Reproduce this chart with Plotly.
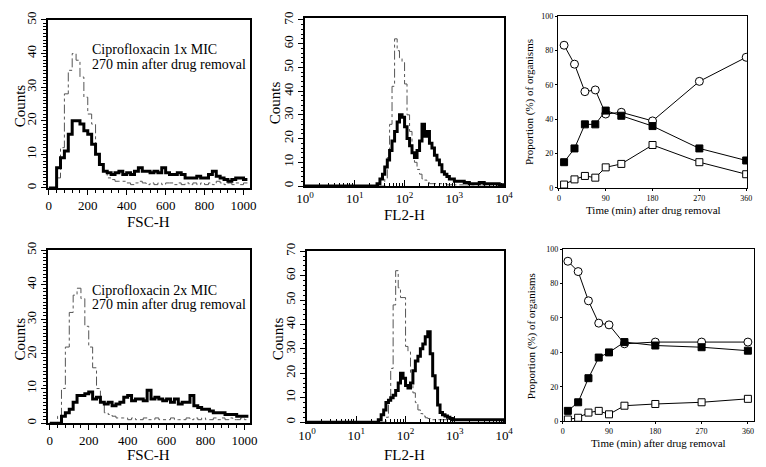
import plotly.graph_objects as go

W, H = 766, 467
OFF = 8  # page body margin in the browser
FW, FH = W - OFF, H - OFF
FONT = "Liberation Serif"

# ---------------- data ----------------
fsc_x = [0, 20, 40, 60, 80, 100, 120, 140, 160, 180, 200, 220, 240, 260, 280, 300, 320, 340, 360, 380,
         400, 420, 440, 460, 480, 500, 520, 540, 560, 580, 600, 620, 640, 660, 680, 700, 720, 740, 760, 780,
         800, 820, 840, 860, 880, 900, 920, 940, 960, 980, 1000, 1020]

fsc1_treated = [0, 0, 6, 9, 11, 16, 20, 20, 19, 17, 16, 13, 10, 7, 5, 4.5, 4, 4.5, 5, 4,
                4.5, 4, 5, 6, 5, 5, 4.5, 5, 4.5, 6, 4.5, 4, 4, 4.5, 4, 3, 3, 3, 3.5, 3,
                3, 4, 5, 3.5, 3, 2.5, 2, 2.5, 3, 3, 2.5, 2.5]
fsc1_control = [0, 0, 3, 12, 28, 35, 40, 38, 33, 27, 22, 19, 10, 7, 5, 3, 2.5, 2, 2, 2,
                1.5, 1, 1.5, 2, 1.5, 1, 1.5, 1, 1.5, 1, 1.5, 1.5, 1, 1.5, 1, 1.5, 1, 1.5, 1, 1.5,
                1, 1.5, 1, 2, 1.5, 1, 1.5, 1, 1.5, 1, 1.5, 1]

fsc2_treated = [0, 0, 0, 2, 3, 4, 6, 8, 8, 8.5, 9, 7, 7.5, 6, 5.5, 6, 5, 5.5, 6, 7.5,
                8, 6.5, 7, 7, 6.5, 9.5, 7, 7.5, 7, 6.5, 7, 6, 7, 5.5, 6, 6, 8, 5, 4.5, 4,
                4, 3.5, 3, 3, 3, 2.5, 2.5, 2.5, 2, 2, 2, 2]
fsc2_control = [0, 0, 2, 10, 22, 32, 37, 39, 36, 28, 22, 16, 10, 6, 3, 2.5, 2, 1.5, 1.5, 1.5,
                1, 1.5, 1, 1, 1.5, 1, 1, 1.5, 1, 1, 1, 1.5, 1, 1, 1, 1.5, 1, 1.5, 1, 1.5,
                1, 1, 1.5, 1, 1.5, 1, 1.5, 1, 1, 1.5, 1, 1]

fl2_x = [1, 20, 25, 28, 32, 36, 40, 45, 50, 56, 63, 71, 79, 89, 100, 112, 126, 141, 158, 178,
         200, 224, 251, 282, 316, 355, 398, 447, 501, 562, 631, 708, 794, 891, 1000, 1260, 1580, 2000,
         2510, 3160, 3980, 5010, 6310, 7940, 10000]

fl2_1_treated = [0, 0, 0, 1, 3, 5, 8, 11, 15, 19, 23, 27, 30, 29, 25, 20, 17, 14, 12, 15,
                 19, 26, 21, 23, 18, 16, 13, 11, 9, 6, 5, 4, 3, 3, 2, 2, 1.5, 1,
                 1, 1.5, 1, 1, 1, 0.5, 0]
fl2_1_control = [0, 0, 0, 0, 0, 0, 3, 12, 26, 42, 62, 57, 54, 52, 43, 30, 23, 14, 10, 7,
                 5, 3, 2.5, 1.5, 1, 1, 1, 1, 1, 1, 1, 0.5, 0.5, 1, 0.5, 0.5, 0.5, 0.5,
                 0.5, 0.5, 0.5, 0.5, 0.5, 0.5, 0]

fl2_2_treated = [0, 0, 0, 1, 3, 5, 8, 9, 10, 11, 13, 16, 20, 18, 15, 14, 16, 21, 25, 27,
                 30, 32, 35, 37, 28, 19, 14, 7, 4, 3, 2.5, 2, 1.5, 1, 1, 1, 1, 1,
                 1, 1, 1, 1, 1, 1, 0]
fl2_2_control = [0, 0, 0, 0, 0, 0, 2, 9, 22, 48, 62, 55, 51, 51, 31, 29, 20, 12, 8, 5,
                 3.5, 2.5, 1.8, 1.5, 1, 1, 1, 1, 1, 1, 1, 1, 1, 1, 1, 1, 1, 1,
                 1, 1, 1, 1, 1, 1, 0]

time_min = [10, 30, 50, 70, 90, 120, 180, 270, 360]
top_open_circle = [83, 72, 56, 57, 43, 44, 39, 62, 76]
top_filled_square = [15, 23, 37, 37, 45, 42, 36, 23, 16]
top_open_square = [2, 5, 7, 6, 12, 14, 25, 15, 8]

bot_open_circle = [93, 87, 70, 57, 56, 45, 46, 46, 46]
bot_filled_square = [6, 11, 25, 37, 40, 46, 44, 43, 41]
bot_open_square = [1, 2, 5, 6, 4, 9, 10, 11, 13]

fsc_ticks = [0, 200, 400, 600, 800, 1000]
fl2_ticks = [1, 10, 100, 1000, 10000]
fl2_ticktext = ["10<sup>0</sup>", "10<sup>1</sup>", "10<sup>2</sup>", "10<sup>3</sup>", "10<sup>4</sup>"]
time_ticks = [0, 90, 180, 270, 360]

# ---------------- layout helpers (page pixel -> paper fraction) ----------------
def fx(px):
    return (px - OFF) / FW

def fy(py):
    return 1 - (py - OFF) / FH

fig = go.Figure()

def hist_pair(xa, ya, x, treated, control):
    fig.add_trace(go.Scatter(x=x, y=control, mode="lines", line=dict(color="#555", width=1, dash="dashdot", shape="hv"),
                             xaxis=xa, yaxis=ya, showlegend=False, hoverinfo="skip"))
    fig.add_trace(go.Scatter(x=x, y=treated, mode="lines", line=dict(color="black", width=3, shape="hv"),
                             xaxis=xa, yaxis=ya, showlegend=False, hoverinfo="skip"))

def time_series(xa, ya, circ, fsq, osq):
    fig.add_trace(go.Scatter(x=time_min, y=circ, mode="lines+markers", line=dict(color="black", width=1),
                             marker=dict(symbol="circle", size=8, color="white", line=dict(color="black", width=1)),
                             xaxis=xa, yaxis=ya, showlegend=False))
    fig.add_trace(go.Scatter(x=time_min, y=fsq, mode="lines+markers", line=dict(color="black", width=1),
                             marker=dict(symbol="square", size=7, color="black", line=dict(color="black", width=1)),
                             xaxis=xa, yaxis=ya, showlegend=False))
    fig.add_trace(go.Scatter(x=time_min, y=osq, mode="lines+markers", line=dict(color="black", width=1),
                             marker=dict(symbol="square", size=7, color="white", line=dict(color="black", width=1)),
                             xaxis=xa, yaxis=ya, showlegend=False))

hist_pair("x", "y", fsc_x, fsc1_treated, fsc1_control)
hist_pair("x2", "y2", fl2_x, fl2_1_treated, fl2_1_control)
time_series("x3", "y3", top_open_circle, top_filled_square, top_open_square)
hist_pair("x4", "y4", fsc_x, fsc2_treated, fsc2_control)
hist_pair("x5", "y5", fl2_x, fl2_2_treated, fl2_2_control)
time_series("x6", "y6", bot_open_circle, bot_filled_square, bot_open_square)

tickfont_h = dict(family=FONT, size=13, color="black")
tickfont_s = dict(family=FONT, size=8, color="black")

def fsc_xaxis(dom, rng, anchor):
    return dict(domain=dom, range=rng, anchor=anchor, showgrid=False, zeroline=False,
                showline=True, linecolor="black", linewidth=1.5, mirror=True,
                tickvals=fsc_ticks, ticks="outside", ticklen=5, tickcolor="black", tickfont=tickfont_h,
                minor=dict(dtick=40, ticks="outside", ticklen=3, tickcolor="black", showgrid=False))

def cnt_yaxis(dom, rng, anchor, dtick, minor):
    return dict(domain=dom, range=rng, anchor=anchor, showgrid=False, zeroline=False,
                showline=True, linecolor="black", linewidth=1.5, mirror=True,
                dtick=dtick, tick0=0, ticks="outside", ticklen=5, tickcolor="black", tickfont=tickfont_h,
                tickangle=-90, minor=minor)

fl2_minor = [m * d for d in [1, 10, 100, 1000] for m in range(2, 10)]

def fl2_xaxis(dom, anchor):
    return dict(domain=dom, type="log", range=[0, 4], anchor=anchor, showgrid=False, zeroline=False,
                showline=True, linecolor="black", linewidth=1.5, mirror=True,
                tickvals=fl2_ticks, ticktext=fl2_ticktext, ticks="inside", ticklen=6, tickcolor="black",
                tickfont=tickfont_h,
                minor=dict(tickvals=fl2_minor, ticks="inside", ticklen=3, tickcolor="black", showgrid=False))

def time_xaxis(dom, rng, anchor):
    return dict(domain=dom, range=rng, anchor=anchor, showgrid=False, zeroline=False,
                showline=True, linecolor="black", linewidth=1, mirror=True,
                tickvals=time_ticks, ticks="outside", ticklen=2, tickcolor="black", tickfont=tickfont_s)

def prop_yaxis(dom, anchor):
    return dict(domain=dom, range=[0, 100], anchor=anchor, showgrid=False, zeroline=False,
                showline=True, linecolor="black", linewidth=1, mirror=True,
                dtick=20, ticks="outside", ticklen=2, tickcolor="black", tickfont=tickfont_s)

fsc_minor_y = dict(dtick=1, ticks="outside", ticklen=3, tickcolor="black", showgrid=False)
fl2_minor_y = dict(dtick=2, ticks="outside", ticklen=2, tickcolor="black", showgrid=False)

fig.update_layout(
    width=FW, height=FH, margin=dict(l=0, r=0, t=0, b=0),
    paper_bgcolor="white", plot_bgcolor="white",
    font=dict(family=FONT, color="black"),
    xaxis=fsc_xaxis([fx(40), fx(247)], [-3, 1035], "y"),
    yaxis=cnt_yaxis([fy(185), fy(12)], [0, 50], "x", 10, fsc_minor_y),
    xaxis2=fl2_xaxis([fx(303), fx(507)], "y2"),
    yaxis2=cnt_yaxis([fy(183), fy(10)], [0, 70.8], "x2", 10, fl2_minor_y),
    xaxis3=time_xaxis([fx(562), fx(756)], [-2, 362], "y3"),
    yaxis3=prop_yaxis([fy(185), fy(8)], "x3"),
    xaxis4=fsc_xaxis([fx(40), fx(247)], [-8, 1030], "y4"),
    yaxis4=cnt_yaxis([fy(427), fy(249)], [0, 50], "x4", 10, fsc_minor_y),
    xaxis5=fl2_xaxis([fx(305), fx(507)], "y5"),
    yaxis5=cnt_yaxis([fy(426), fy(250)], [0, 70], "x5", 10, fl2_minor_y),
    xaxis6=time_xaxis([fx(567), fx(763)], [0, 372], "y6"),
    yaxis6=prop_yaxis([fy(425), fy(248)], "x6"),
)

def label(text, px, py, size, angle=0, xanchor="center"):
    fig.add_annotation(text=text, x=fx(px), y=fy(py), xref="paper", yref="paper", showarrow=False,
                       textangle=angle, xanchor=xanchor, yanchor="middle",
                       font=dict(family=FONT, size=size, color="black"))

# axis titles
label("Counts", 11, 100, 15, -90)
label("Counts", 11, 340, 15, -90)
label("Counts", 273, 97, 15, -90)
label("Counts", 275, 340, 15, -90)
label("FSC-H", 143, 220, 15)
label("FSC-H", 143, 460, 15)
label("FL2-H", 405, 213, 15)
label("FL2-H", 405, 460, 15)
label("Proportion (%) of organisms", 533, 97, 11, -90)
label("Time (min) after drug removal", 660, 208, 11)
label("Proportion (%) of organisms", 535, 337, 11, -90)
label("Time (min) after drug removal", 665, 448, 11)

# panel notes
label("Ciprofloxacin 1x MIC", 83, 42, 14, xanchor="left")
label("270 min after drug removal", 83, 58, 14, xanchor="left")
label("Ciprofloxacin 2x MIC", 83, 290, 14, xanchor="left")
label("270 min after drug removal", 83, 305, 14, xanchor="left")

fig.write_html("out.html")
